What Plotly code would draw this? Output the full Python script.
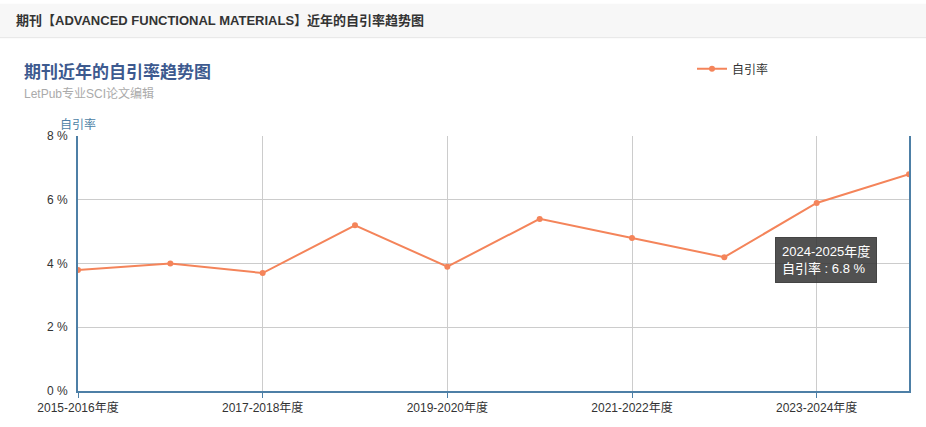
import plotly.graph_objects as go

categories = ["2015-2016年度", "2016-2017年度", "2017-2018年度", "2018-2019年度", "2019-2020年度",
              "2020-2021年度", "2021-2022年度", "2022-2023年度", "2023-2024年度", "2024-2025年度"]
self_cite_rate = [3.8, 4.0, 3.7, 5.2, 3.9, 5.4, 4.8, 4.2, 5.9, 6.8]
series_name = "自引率"
y_ticks = [0, 2, 4, 6, 8]
y_tick_labels = [f"{v} %" for v in y_ticks]

W, H = 926, 427
L, R, T, B = 78, 17, 136, 29
PW, PH = W - L - R, H - T - B

def px(x):
    return (x - L) / PW

def py(y):
    return (H - B - y) / PH

FONT = "Arial, Liberation Sans, Noto Sans CJK SC, sans-serif"
COLOR = "#f4845a"
AXIS = "#4d7fa6"

fig = go.Figure()
fig.add_trace(go.Scatter(
    x=categories, y=self_cite_rate, mode="lines+markers", name=series_name,
    line=dict(color=COLOR, width=2), marker=dict(color=COLOR, size=6),
))

fig.update_layout(
    width=W, height=H,
    margin=dict(l=L, r=R, t=T, b=B),
    paper_bgcolor="white", plot_bgcolor="white",
    font=dict(family=FONT, size=12, color="#333"),
    showlegend=True,
    legend=dict(orientation="h", x=px(692), y=py(67), xanchor="left", yanchor="middle",
                itemwidth=30, font=dict(size=12, color="#333"), bgcolor="rgba(0,0,0,0)"),
    xaxis=dict(
        type="category", range=[0, len(categories) - 1],
        tickmode="array", tickvals=categories[::2], ticktext=categories[::2],
        showgrid=True, gridcolor="#cccccc", gridwidth=1,
        showline=True, linecolor=AXIS, linewidth=2,
        ticks="outside", ticklen=5, tickcolor=AXIS,
        tickfont=dict(size=12, color="#333"), zeroline=False,
    ),
    yaxis=dict(
        range=[0, 8], tickmode="array", tickvals=y_ticks, ticktext=y_tick_labels,
        showgrid=True, gridcolor="#cccccc", gridwidth=1,
        showline=True, linecolor=AXIS, linewidth=2, mirror=True,
        ticks="outside", ticklen=6, tickcolor="rgba(0,0,0,0)",
        tickfont=dict(size=12, color="#333"), zeroline=False,
    ),
    shapes=[
        dict(type="rect", xref="paper", yref="paper", x0=px(0), x1=px(W), y0=py(0), y1=py(35),
             fillcolor="#f7f7f7", line=dict(width=0), layer="below"),
        dict(type="line", xref="paper", yref="paper", x0=px(0), x1=px(W), y0=py(35), y1=py(35),
             line=dict(color="#e6e6e6", width=1)),
    ],
    annotations=[
        dict(text="期刊【ADVANCED FUNCTIONAL MATERIALS】近年的自引率趋势图", xref="paper", yref="paper",
             x=px(14), y=py(17), xanchor="left", yanchor="middle", showarrow=False,
             font=dict(size=13, color="#333", family=FONT, weight="bold")),
        dict(text="期刊近年的自引率趋势图", xref="paper", yref="paper",
             x=px(22), y=py(70), xanchor="left", yanchor="middle", showarrow=False,
             font=dict(size=17, color="#3d5a8f", family=FONT, weight="bold")),
        dict(text="LetPub专业SCI论文编辑", xref="paper", yref="paper",
             x=px(22), y=py(92), xanchor="left", yanchor="middle", showarrow=False,
             font=dict(size=12, color="#aaaaaa", family=FONT)),
        dict(text=series_name, xref="paper", yref="paper",
             x=px(78), y=py(124), xanchor="center", yanchor="middle", showarrow=False,
             font=dict(size=12, color=AXIS, family=FONT)),
        dict(text=f"{categories[-1]}<br>{series_name} : {self_cite_rate[-1]} %", xref="paper", yref="paper",
             x=px(826), y=py(263), xanchor="center", yanchor="middle", showarrow=False,
             align="left", bgcolor="rgba(50,50,50,0.85)", borderpad=6, bordercolor="rgba(50,50,50,0.85)",
             font=dict(size=13, color="white", family=FONT)),
    ],
)

fig.write_html("out.html", config={"displayModeBar": False},
               post_script="document.body.style.margin='0';document.body.style.overflow='hidden';")
